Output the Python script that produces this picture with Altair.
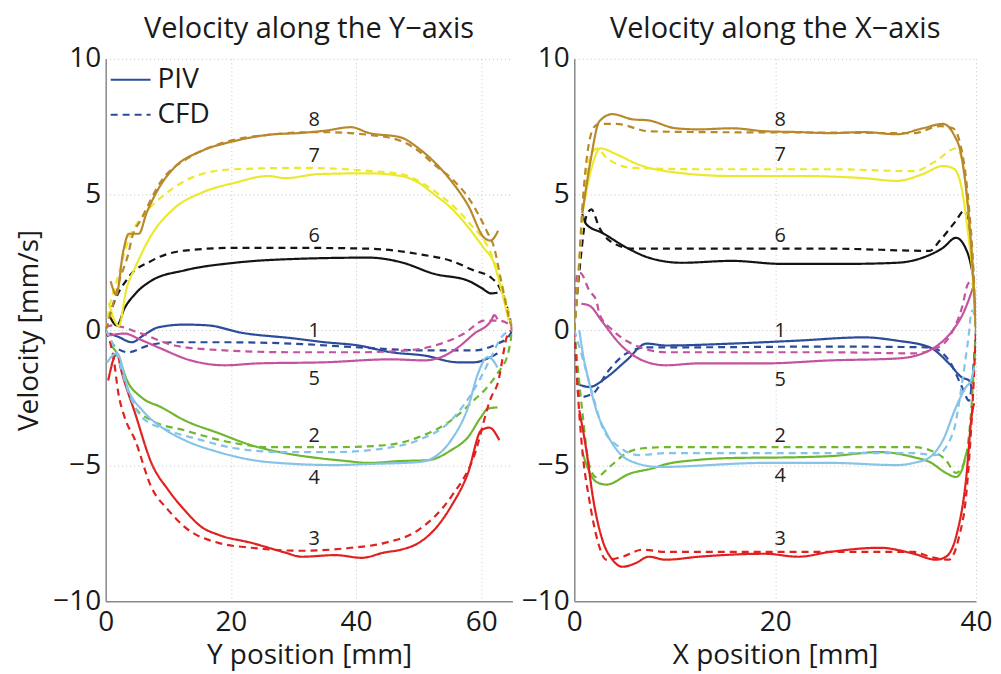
import altair as alt
import pandas as pd

FONT = "Open Sans"
IDS = ["1", "2", "3", "4", "5", "6", "7", "8"]
COLORS = ["#2b4b9b", "#6fb72f", "#e0211f", "#85c4e8", "#c4529f", "#141414", "#ece92c", "#b7892b"]

# ---------------- Left panel: velocity along the Y-axis ----------------
left_piv_8 = [(0.8,1.8),(1.7,1.3),(2.8,2.9),(3.7,3.55),(5.3,3.55),(6.5,4.3),(8.4,5.2),(11,6.0),(15.3,6.6),(20.6,6.97),(26,7.2),(31.3,7.27),(35,7.35),(39.2,7.48),(42,7.27),(47.2,7.1),(50,6.7),(52.5,6.2),(55.2,5.5),(57.9,4.6),(60.5,3.4),(61.5,3.3),(62.7,3.66)]
left_cfd_8 = [(0,0),(1,0.8),(2.3,1.9),(3.6,2.8),(4.2,3.4),(5.7,4.1),(8.9,5.5),(13.2,6.35),(18,6.85),(26,7.2),(34,7.3),(42,7.2),(47.2,6.97),(50,6.6),(52.5,6.1),(55.2,5.6),(57.9,4.9),(61,3.6),(62,3.1),(63.2,1.8),(64.3,0.6),(65,0)]
left_piv_7 = [(0.5,1.0),(2.1,0.15),(3.3,1.5),(4.7,2.3),(7.3,3.5),(11,4.5),(15.3,5.06),(20.6,5.43),(26,5.68),(28.7,5.6),(34,5.75),(42,5.78),(47.2,5.68),(50,5.43),(52.5,5.0),(55.2,4.5),(57.9,3.8),(60.5,3.0),(61.9,2.55),(63.2,1.5),(64.4,0.35)]
left_cfd_7 = [(0,0),(0.5,0.7),(2,2.0),(3.6,3.3),(6.3,4.3),(10,5.1),(15.3,5.75),(20.6,5.93),(31.3,5.98),(42,5.87),(47.2,5.75),(52.5,5.13),(57.9,4.0),(61.6,2.8),(63.5,1.5),(65,0)]
left_piv_6 = [(0.6,0.53),(1.8,0.17),(3,0.8),(4.7,1.33),(7.3,1.82),(12.6,2.2),(20.6,2.48),(31.3,2.63),(42,2.67),(47.2,2.5),(52.5,2.07),(57.9,1.82),(60,1.56),(61.6,1.35),(62.6,1.38)]
left_cfd_6 = [(0,0),(1,0.8),(3.6,1.93),(7.3,2.55),(12.6,2.93),(20.6,3.03),(31.3,3.03),(42,3.0),(50,2.8),(55.2,2.55),(58.8,2.2),(61.6,1.93),(63.2,1.45),(64.3,0.7),(65,0)]
left_piv_1 = [(0.6,-0.13),(2,-0.25),(4.2,-0.45),(6,-0.2),(8.4,0.1),(12.6,0.2),(16.4,0.17),(21.7,-0.1),(29.7,-0.3),(35,-0.45),(40.4,-0.57),(45.6,-0.82),(50.9,-0.94),(56.3,-1.19),(58.9,-1.19),(61,-1.05),(62.6,-0.86)]
left_cfd_1 = [(0,0),(1,-0.5),(3.6,-0.82),(6.8,-0.57),(11,-0.45),(19,-0.45),(29.7,-0.5),(40.4,-0.64),(50.9,-0.75),(58.9,-0.75),(62.6,-0.5),(64.3,-0.27),(65,0)]
left_piv_5 = [(0.6,-0.2),(3,-0.13),(5.5,-0.35),(8.4,-0.64),(13.6,-1.12),(19,-1.3),(24.4,-1.23),(35,-1.19),(45.6,-1.08),(50.9,-1.12),(53.6,-1.0),(56.3,-0.64),(58.9,-0.13),(61.6,0.35),(62.1,0.55),(62.6,0.4)]
left_cfd_5 = [(0,0.1),(1,0.17),(5.7,-0.13),(11,-0.57),(19,-0.75),(29.7,-0.82),(40.4,-0.82),(48.3,-0.75),(53.6,-0.5),(57.3,-0.13),(60.5,0.35),(62.6,0.35),(64.3,0.24),(65,0)]
left_piv_2 = [(1,-0.6),(1.8,-0.86),(3.5,-1.9),(5.7,-2.48),(8.9,-2.85),(12.6,-3.33),(18,-3.8),(23.3,-4.25),(28.6,-4.54),(33.9,-4.72),(38,-4.82),(42,-4.9),(47.2,-4.83),(51.5,-4.8),(55.2,-4.43),(57.9,-3.95),(60,-3.2),(61.1,-2.9),(62.6,-2.85)]
left_cfd_2 = [(0,0),(1.8,-0.9),(3,-1.8),(4.7,-2.85),(7.3,-3.33),(12.6,-3.7),(20.6,-4.17),(26,-4.32),(36.7,-4.32),(44.6,-4.25),(50,-3.95),(55.2,-3.33),(58.8,-2.6),(61,-2.1),(62.6,-1.6),(64.3,-0.86),(65,0)]
left_piv_4 = [(0.2,-1.2),(1.8,-0.86),(3.6,-2.2),(6,-3.0),(8.9,-3.58),(12.6,-4.06),(18,-4.5),(26,-4.87),(36.7,-4.98),(42,-4.94),(50,-4.87),(52.5,-4.69),(55.2,-4.06),(57.9,-2.85),(59.5,-1.6),(61,-1.0),(61.9,-1.12),(62.6,-1.38)]
left_cfd_4 = [(0,0),(1.8,-0.9),(3.5,-2.2),(5.7,-3.2),(10,-3.7),(15.3,-4.06),(20.6,-4.36),(28.7,-4.5),(36.7,-4.5),(44.6,-4.36),(50,-4.06),(55.2,-3.33),(58.8,-2.22),(61.6,-1.0),(63.2,-0.27),(65,0)]
left_piv_3 = [(0.4,-1.86),(1.8,-0.86),(2.5,-1.5),(4.7,-3.07),(7.3,-4.9),(10,-5.9),(12.6,-6.64),(15.3,-7.26),(18,-7.55),(23.3,-7.85),(28.6,-8.2),(31.3,-8.36),(36.7,-8.3),(40.9,-8.4),(44.6,-8.2),(47.2,-8.1),(50,-7.85),(52.5,-7.37),(55.2,-6.5),(57.9,-5.27),(60,-3.7),(61.3,-3.6),(62.9,-4.06)]
left_cfd_3 = [(0,0),(1.3,-1.1),(2,-2.3),(3,-3.2),(4.7,-4.06),(7.3,-5.8),(10,-6.64),(12.6,-7.26),(18,-7.85),(23.3,-8.03),(31.3,-8.14),(39.2,-8.03),(44.6,-7.85),(50,-7.37),(55.2,-6.15),(58.8,-4.69),(61.6,-2.48),(62.6,-2.0),(64.3,-0.13),(65,0)]

# ---------------- Right panel: velocity along the X-axis ----------------
right_piv_8 = [(0.8,4.3),(1.6,6.2),(2.5,7.7),(3.8,7.96),(5.8,7.77),(7.4,7.73),(10.1,7.44),(12.4,7.4),(15.7,7.44),(19,7.33),(22.3,7.3),(25.5,7.26),(28.8,7.3),(32.1,7.22),(34.7,7.44),(36.7,7.6),(37.8,7.2),(38.6,6.3),(39.2,4.5),(39.7,2.0),(40,0.0)]
right_cfd_8 = [(0,0),(0.4,2.0),(0.8,4.5),(1.2,6.2),(2.0,7.5),(2.5,7.6),(4.2,7.6),(7.4,7.33),(12.4,7.3),(25.5,7.28),(33.8,7.26),(36.4,7.52),(37.7,7.44),(38.4,6.9),(38.9,5.9),(39.3,4.5),(39.7,2.5),(40,0)]
right_piv_7 = [(0.8,4.3),(1.6,5.8),(2.6,6.7),(4.2,6.48),(6.4,6.1),(9.1,5.86),(15.7,5.68),(22.3,5.68),(28.8,5.6),(32.1,5.5),(34.7,5.75),(36.7,6.05),(37.7,5.97),(38.4,5.5),(39.2,3.6),(39.7,1.8),(39.9,0.6)]
right_cfd_7 = [(0,0),(0.5,2.5),(1,5.0),(1.7,6.5),(2.3,6.7),(3.2,6.35),(5.8,5.98),(12.4,5.93),(25.5,5.93),(33.8,5.86),(36,6.23),(38,6.7),(38.6,6.3),(39.2,4.5),(39.7,2.0),(40,0)]
right_piv_6 = [(0.8,4.28),(1.2,3.9),(2.8,3.58),(5.2,3.04),(7.4,2.67),(10.7,2.48),(15.7,2.55),(20.6,2.44),(27.2,2.44),(32.1,2.48),(34.7,2.67),(36.7,3.03),(38,3.4),(39.2,2.8),(39.8,1.82)]
right_cfd_6 = [(0,0),(0.6,2.5),(1.2,4.2),(1.7,4.45),(2.5,3.77),(3.5,3.3),(5.8,3.0),(25.5,3.0),(35.4,2.92),(36.4,3.3),(38,4.03),(38.8,4.4),(39.3,3.77),(39.7,2.0),(40,0)]
right_piv_1 = [(0.2,-1.97),(1.5,-2.1),(3.2,-1.75),(5.2,-1.12),(7.2,-0.5),(9.1,-0.57),(15.7,-0.5),(22.3,-0.39),(28.8,-0.27),(32.1,-0.39),(35.4,-0.64),(37.3,-1.23),(38.6,-1.75),(39.3,-1.86),(39.6,-2.2)]
right_cfd_1 = [(0,0),(0.3,-1.5),(0.5,-2.48),(1.9,-2.33),(3.2,-1.6),(5.2,-0.86),(7.2,-0.64),(9.1,-0.64),(25.5,-0.61),(35.4,-0.64),(37.3,-1.12),(38.6,-2.1),(39.3,-2.6),(39.7,-1.5),(40,0)]
right_piv_5 = [(0.7,0.97),(1.5,0.9),(2.8,0.3),(4.5,-0.5),(6.8,-1.12),(9.1,-1.3),(12.4,-1.23),(19,-1.23),(25.5,-1.12),(32.1,-1.05),(34.7,-0.86),(36.4,-0.5),(37.7,0.0),(38.7,0.6),(39.7,1.56)]
right_cfd_5 = [(0,0),(0.3,2.1),(0.6,2.1),(1.5,1.45),(2.2,1.08),(2.5,0.6),(3.8,0.0),(5.7,-0.5),(7.6,-0.75),(9.1,-0.82),(25.5,-0.82),(33.8,-0.86),(36,-0.68),(37.3,-0.27),(38.6,0.83),(39.2,1.7),(39.6,1.8),(40,0)]
right_piv_2 = [(0.8,-4.5),(1.3,-5.05),(2.2,-5.6),(3.2,-5.7),(5.5,-5.3),(7.8,-5.1),(9.1,-4.95),(12,-4.8),(15.7,-4.72),(22.3,-4.69),(25.5,-4.65),(30.4,-4.5),(33.8,-4.69),(35.4,-4.87),(37,-5.27),(38,-5.42),(38.6,-5.16),(39,-4.6),(39.3,-4.43)]
right_cfd_2 = [(0,0),(0.8,-3.0),(1.5,-5.0),(2.2,-5.42),(3.5,-5.05),(5.2,-4.54),(6.8,-4.36),(9.1,-4.32),(25.5,-4.32),(33.8,-4.32),(35.4,-4.43),(37,-4.8),(38,-5.27),(38.8,-4.9),(39.4,-3.5),(40,0)]
right_piv_4 = [(0.5,0.0),(0.8,-0.75),(1.5,-1.97),(2.2,-2.96),(3.2,-3.8),(4.5,-4.54),(6.1,-4.9),(8.4,-5.05),(19,-4.9),(25.5,-4.9),(32.1,-4.98),(33.8,-4.9),(35.4,-4.69),(36.7,-4.06),(38,-2.85),(39,-2.1),(39.5,-1.86),(39.8,-1.38)]
right_cfd_4 = [(0,0),(0.8,-1.0),(1.9,-2.48),(2.8,-3.58),(4.5,-4.32),(6.4,-4.61),(9.1,-4.54),(25.5,-4.54),(33.8,-4.54),(36,-4.61),(37.7,-3.8),(38.6,-1.97),(39.2,-0.4),(39.6,0.72),(40,0.3)]
right_piv_3 = [(0.5,-2.96),(1.2,-4.43),(1.9,-6.27),(2.8,-7.74),(3.8,-8.47),(4.8,-8.73),(6.1,-8.6),(7.4,-8.36),(9.1,-8.47),(12.4,-8.36),(19,-8.25),(22.3,-8.36),(25.5,-8.18),(30.4,-8.03),(33.8,-8.25),(36,-8.47),(37,-8.36),(38,-7.63),(39,-5.53),(39.6,-3.07),(39.8,-2.7)]
right_cfd_3 = [(0,0),(0.3,-1.97),(0.8,-4.43),(1.5,-6.27),(2.3,-7.74),(3.2,-8.47),(4.8,-8.36),(6.8,-8.1),(9.1,-8.18),(25.5,-8.18),(33.8,-8.18),(35.4,-8.36),(37.3,-8.47),(38.3,-7.63),(39,-6.15),(39.6,-3.07),(40,0)]

# curve number annotations
label_text = ["8", "7", "6", "1", "5", "2", "4", "3"]
left_label_x = [33.3] * 8
left_label_v = [7.75, 6.4, 3.45, -0.05, -1.8, -3.9, -5.45, -7.7]
right_label_x = [20.5] * 8
right_label_v = [7.75, 6.45, 3.45, -0.05, -1.85, -3.9, -5.4, -7.7]

LEFT = {
    "1": (left_piv_1, left_cfd_1), "2": (left_piv_2, left_cfd_2), "3": (left_piv_3, left_cfd_3),
    "4": (left_piv_4, left_cfd_4), "5": (left_piv_5, left_cfd_5), "6": (left_piv_6, left_cfd_6),
    "7": (left_piv_7, left_cfd_7), "8": (left_piv_8, left_cfd_8),
}
RIGHT = {
    "1": (right_piv_1, right_cfd_1), "2": (right_piv_2, right_cfd_2), "3": (right_piv_3, right_cfd_3),
    "4": (right_piv_4, right_cfd_4), "5": (right_piv_5, right_cfd_5), "6": (right_piv_6, right_cfd_6),
    "7": (right_piv_7, right_cfd_7), "8": (right_piv_8, right_cfd_8),
}


def to_df(curves):
    rows = []
    for cid, (piv, cfd) in curves.items():
        for kind, pts in (("PIV", piv), ("CFD", cfd)):
            for i, (x, v) in enumerate(pts):
                rows.append({"cid": cid, "kind": kind, "key": kind + cid, "i": i, "x": x, "v": v})
    return pd.DataFrame(rows)


def label_df(xs, vs):
    return pd.DataFrame({"x": xs, "v": vs, "lab": label_text})


AX = dict(
    labelFont=FONT, labelFontSize=28, labelColor="#1a1a1a", labelFlush=False,
    titleFont=FONT, titleFontSize=28, titleFontWeight="normal", titleColor="#1a1a1a",
    domainColor="#8a8a8a", domainWidth=1.5, ticks=False,
    grid=True, gridColor="#c4c4c4", gridDash=[1, 3], gridWidth=1,
)


def panel(curves, labels, xdom, xticks, title, xtitle, ytitle, show_legend, width):
    df = to_df(curves)
    if show_legend:
        leg = alt.Legend(
            title=None, orient="none", legendX=4, legendY=0, symbolType="stroke",
            symbolStrokeColor=COLORS[0], symbolStrokeWidth=2, symbolSize=1600,
            labelFont=FONT, labelFontSize=28, labelColor="#1a1a1a", labelOffset=6,
            rowPadding=-5, padding=0,
        )
    else:
        leg = None
    x_enc = alt.X("x:Q", scale=alt.Scale(domain=xdom, nice=False, zero=False),
                  axis=alt.Axis(values=xticks, title=xtitle, labelPadding=7, titlePadding=5, **AX))
    y_enc = alt.Y("v:Q", scale=alt.Scale(domain=[-10, 10], nice=False),
                  axis=alt.Axis(values=[-10, -5, 0, 5, 10], title=ytitle, titlePadding=9,
                                labelPadding=5, **AX))
    lines = alt.Chart(df).mark_line(strokeWidth=2.2, clip=True, interpolate="monotone").encode(
        x=x_enc,
        y=y_enc,
        color=alt.Color("cid:N", scale=alt.Scale(domain=IDS, range=COLORS), legend=None),
        strokeDash=alt.StrokeDash("kind:N", scale=alt.Scale(domain=["PIV", "CFD"], range=[[1, 0], [7, 5]]),
                                  legend=leg),
        detail="key:N",
        order="i:Q",
    )
    text = alt.Chart(labels).mark_text(font=FONT, fontSize=20, color="#222222").encode(
        x=x_enc, y=y_enc, text="lab:N")
    return alt.layer(lines, text).properties(
        width=width, height=544,
        title=alt.TitleParams(title, font=FONT, fontSize=29, fontWeight="normal", color="#1a1a1a",
                              anchor="middle", frame="group", offset=1),
    ).resolve_legend(strokeDash="independent")


left = panel(LEFT, label_df(left_label_x, left_label_v), [0, 65], [0, 20, 40, 60],
             "Velocity along the Y\u2212axis", "Y position [mm]", "Velocity [mm/s]", True, 408)
right = panel(RIGHT, label_df(right_label_x, right_label_v), [0, 40], [0, 20, 40],
              "Velocity along the X\u2212axis", "X position [mm]", None, False, 403)

chart = alt.hconcat(left, right, spacing=8).resolve_scale(
    x="independent", strokeDash="independent"
).resolve_legend(strokeDash="independent").properties(
    padding={"left": 7, "top": 6, "right": 0, "bottom": 2}
).configure(background="white").configure_view(stroke=None)

chart.save("out.html", embed_options={"renderer": "svg", "actions": False})
